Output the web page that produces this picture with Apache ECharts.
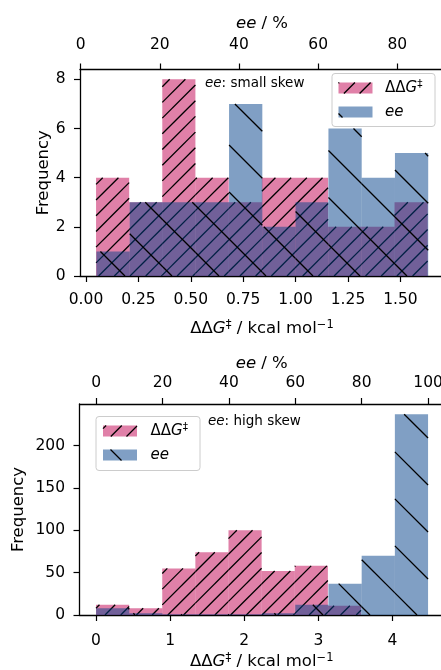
<!DOCTYPE html>
<html><head><meta charset="utf-8">
<script src="https://cdn.jsdelivr.net/npm/echarts@6/dist/echarts.min.js"></script>
<style>html,body{margin:0;padding:0;background:#fff}#c{width:441px;height:670px}</style>
</head><body><div id="c"></div>
<script>
// ---------- DATA ----------
// Top panel (ee: small skew)
const topDdgEdges = [0.048, 0.206, 0.364, 0.522, 0.681, 0.839, 0.997, 1.155, 1.313, 1.472, 1.630];
const topDdgCounts = [4, 3, 8, 4, 3, 4, 4, 2, 2, 3];
const topEeEdges = [4.0, 12.4, 20.8, 29.1, 37.5, 45.9, 54.3, 62.6, 71.0, 79.4, 87.8];
const topEeCounts = [1, 3, 3, 3, 7, 2, 3, 6, 4, 5];
// Bottom panel (ee: high skew)
const botDdgEdges = [0, 0.447, 0.894, 1.341, 1.788, 2.235, 2.682, 3.129, 3.576, 4.023, 4.470];
const botDdgCounts = [12, 8, 55, 74, 100, 52, 58, 11, 0, 0];
const botEeEdges = [0, 10, 20, 30, 40, 50, 60, 70, 80, 90, 100];
const botEeCounts = [8, 2, 1, 1, 1, 2, 12, 37, 70, 237];
// Tick labels
const topDdgTicks = [0, 0.25, 0.5, 0.75, 1.0, 1.25, 1.5];
const topEeTicks = [0, 20, 40, 60, 80];
const topFreqTicks = [0, 2, 4, 6, 8];
const botDdgTicks = [0, 1, 2, 3, 4];
const botEeTicks = [0, 20, 40, 60, 80, 100];
const botFreqTicks = [0, 50, 100, 150, 200];
// Texts
const legendLabels = ['ΔΔG‡', 'ee'];
const notes = ['small skew', 'high skew'];

// ---------- STYLE ----------
const FONT = 'DejaVu Sans';
const PINK = 'rgba(193,1,81,0.5)';
const BLUE = 'rgba(1,63,137,0.5)';
const HATCH = { '/': { spacing: 15.7, phase: 13.5 }, '\\': { spacing: 47, phase: 37 } };
const HATCH_STYLE = { stroke: '#000', lineWidth: 1.3 };

function hatchLines(x0, y0, x1, y1, kind) {
  const out = [];
  const s = HATCH[kind].spacing, ph = HATCH[kind].phase;
  if (kind === '/') {
    const cmin = x0 + y0, cmax = x1 + y1;
    for (let k = Math.ceil((cmin - ph) / s); k <= Math.floor((cmax - ph) / s); k++) {
      const c = ph + k * s;
      const xa = Math.max(x0, c - y1), xb = Math.min(x1, c - y0);
      if (xb - xa > 0.3) out.push({ type: 'line', shape: { x1: xa, y1: c - xa, x2: xb, y2: c - xb }, style: HATCH_STYLE });
    }
  } else {
    const cmin = x0 - y1, cmax = x1 - y0;
    for (let k = Math.ceil((cmin - ph) / s); k <= Math.floor((cmax - ph) / s); k++) {
      const c = ph + k * s;
      const xa = Math.max(x0, c + y0), xb = Math.min(x1, c + y1);
      if (xb - xa > 0.3) out.push({ type: 'line', shape: { x1: xa, y1: xa - c, x2: xb, y2: xb - c }, style: HATCH_STYLE });
    }
  }
  return out;
}

function histSeries(edges, counts, xIdx, yIdx, fill, kind, z) {
  return {
    type: 'custom', xAxisIndex: xIdx, yAxisIndex: yIdx, z: z, clip: false,
    encode: { x: [0, 1], y: 2 },
    data: counts.map((n, i) => [edges[i], edges[i + 1], n]),
    renderItem: function (params, api) {
      const n = api.value(2);
      if (n <= 0) return null;
      const p0 = api.coord([api.value(0), n]);
      const p1 = api.coord([api.value(1), 0]);
      const x0 = p0[0], y0 = p0[1], x1 = p1[0], y1 = p1[1];
      return {
        type: 'group',
        children: [{ type: 'rect', shape: { x: x0, y: y0, width: x1 - x0, height: y1 - y0 }, style: { fill: fill } }]
          .concat(hatchLines(x0, y0, x1, y1, kind))
      };
    }
  };
}

const RICH_AX = {
  n: { fontFamily: FONT, fontSize: 16.5, color: '#000', lineHeight: 19 },
  i: { fontFamily: FONT, fontSize: 16.5, fontStyle: 'italic', color: '#000', lineHeight: 19 },
  s: { fontFamily: FONT, fontSize: 11.5, color: '#000', lineHeight: 12, verticalAlign: 'top' }
};
const RICH_LEG = {
  n: { fontFamily: FONT, fontSize: 15, color: '#000', lineHeight: 18 },
  i: { fontFamily: FONT, fontSize: 15, fontStyle: 'italic', color: '#000', lineHeight: 18 },
  s: { fontFamily: FONT, fontSize: 10.5, color: '#000', lineHeight: 11, verticalAlign: 'top' }
};
const RICH_SMALL = {
  n: { fontFamily: FONT, fontSize: 13.5, color: '#000' },
  i: { fontFamily: FONT, fontSize: 13.5, fontStyle: 'italic', color: '#000' }
};
const DDG_NAME = '{n|ΔΔ}{i|G}{s|‡}{n| / kcal mol}{s|−1}';
const EE_NAME = '{i|ee}{n| / %}';

function xAxis(grid, pos, min, max, ticks, fmt, name, nameGap, margin) {
  return {
    type: 'value', gridIndex: grid, position: pos, min: min, max: max,
    name: name, nameLocation: 'middle', nameGap: nameGap, nameMoveOverlap: false,
    nameTextStyle: { rich: RICH_AX },
    axisLine: { show: true, onZero: false, lineStyle: { color: '#000', width: 1.3 } },
    axisTick: { show: true, customValues: ticks, length: 6, lineStyle: { color: '#000', width: 1.2 } },
    axisLabel: { customValues: ticks, formatter: fmt, margin: margin, fontFamily: FONT, fontSize: 15.5, color: '#000', hideOverlap: false },
    splitLine: { show: false }
  };
}
function yAxis(grid, max, ticks, nameGap) {
  return {
    type: 'value', gridIndex: grid, min: 0, max: max,
    name: 'Frequency', nameLocation: 'middle', nameGap: nameGap, nameMoveOverlap: false,
    nameTextStyle: { fontFamily: FONT, fontSize: 16.5, color: '#000' },
    axisLine: { show: true, onZero: false, lineStyle: { color: '#000', width: 1.3 } },
    axisTick: { show: true, customValues: ticks, length: 6, lineStyle: { color: '#000', width: 1.2 } },
    axisLabel: { customValues: ticks, margin: 14.5, fontFamily: FONT, fontSize: 15.5, color: '#000' },
    splitLine: { show: false }
  };
}

// Legend drawing (graphic)
function legendBox(bx, by, bw, bh, px, py1, py2, tx) {
  const pw = 34, ph = 11;
  const els = [];
  els.push({ type: 'rect', shape: { x: bx, y: by, width: bw, height: bh, r: 3 }, style: { fill: 'rgba(255,255,255,0.8)', stroke: '#cccccc', lineWidth: 1 }, z: 100 });
  [[py1, PINK, '/'], [py2, BLUE, '\\']].forEach(function (d) {
    els.push({ type: 'rect', shape: { x: px, y: d[0], width: pw, height: ph }, style: { fill: d[1] }, z: 101 });
    hatchLines(px, d[0], px + pw, d[0] + ph, d[2]).forEach(function (l) { l.z = 102; els.push(l); });
  });
  els.push({ type: 'text', x: tx, y: py1 + ph / 2, z: 103, style: { text: '{n|ΔΔ}{i|G}{s|‡}', rich: RICH_LEG, verticalAlign: 'middle' } });
  els.push({ type: 'text', x: tx, y: py2 + ph / 2, z: 103, style: { text: '{i|' + legendLabels[1] + '}', rich: RICH_LEG, verticalAlign: 'middle' } });
  return els;
}

const graphics = []
  .concat(legendBox(332, 73.5, 103, 53, 338.5, 82.5, 106.5, 385))
  .concat(legendBox(96, 416.5, 104, 54, 103, 425.5, 449.5, 150.5))
  .concat([
    { type: 'text', x: 205, y: 83, z: 103, style: { text: '{i|ee}{n|: ' + notes[0] + '}', rich: RICH_SMALL, verticalAlign: 'middle' } },
    { type: 'text', x: 208, y: 421, z: 103, style: { text: '{i|ee}{n|: ' + notes[1] + '}', rich: RICH_SMALL, verticalAlign: 'middle' } }
  ]);

const chart = echarts.init(document.getElementById('c'), null, { renderer: 'canvas' });
chart.setOption({
  animation: false,
  backgroundColor: '#fff',
  grid: [
    { left: 80, top: 69.5, width: 364, height: 206.5, containLabel: false, outerBoundsMode: 'none' },
    { left: 79.5, top: 404, width: 364.5, height: 211, containLabel: false, outerBoundsMode: 'none' }
  ],
  xAxis: [
    xAxis(0, 'bottom', -0.0286, 1.708, topDdgTicks, v => v.toFixed(2), DDG_NAME, 43.5, 16),
    xAxis(0, 'top', -0.15, 91.79, topEeTicks, v => String(v), EE_NAME, 36, 17),
    xAxis(1, 'bottom', -0.2227, 4.696, botDdgTicks, v => String(v), DDG_NAME, 37.5, 17.5),
    xAxis(1, 'top', -5, 104.8, botEeTicks, v => String(v), EE_NAME, 31, 13)
  ],
  yAxis: [
    yAxis(0, 8.4, topFreqTicks, 28),
    yAxis(1, 249, botFreqTicks, 52)
  ],
  series: [
    histSeries(topDdgEdges, topDdgCounts, 0, 0, PINK, '/', 2),
    histSeries(topEeEdges, topEeCounts, 1, 0, BLUE, '\\', 3),
    histSeries(botDdgEdges, botDdgCounts, 2, 1, PINK, '/', 2),
    histSeries(botEeEdges, botEeCounts, 3, 1, BLUE, '\\', 3)
  ],
  graphic: graphics
});
</script>
</body></html>
